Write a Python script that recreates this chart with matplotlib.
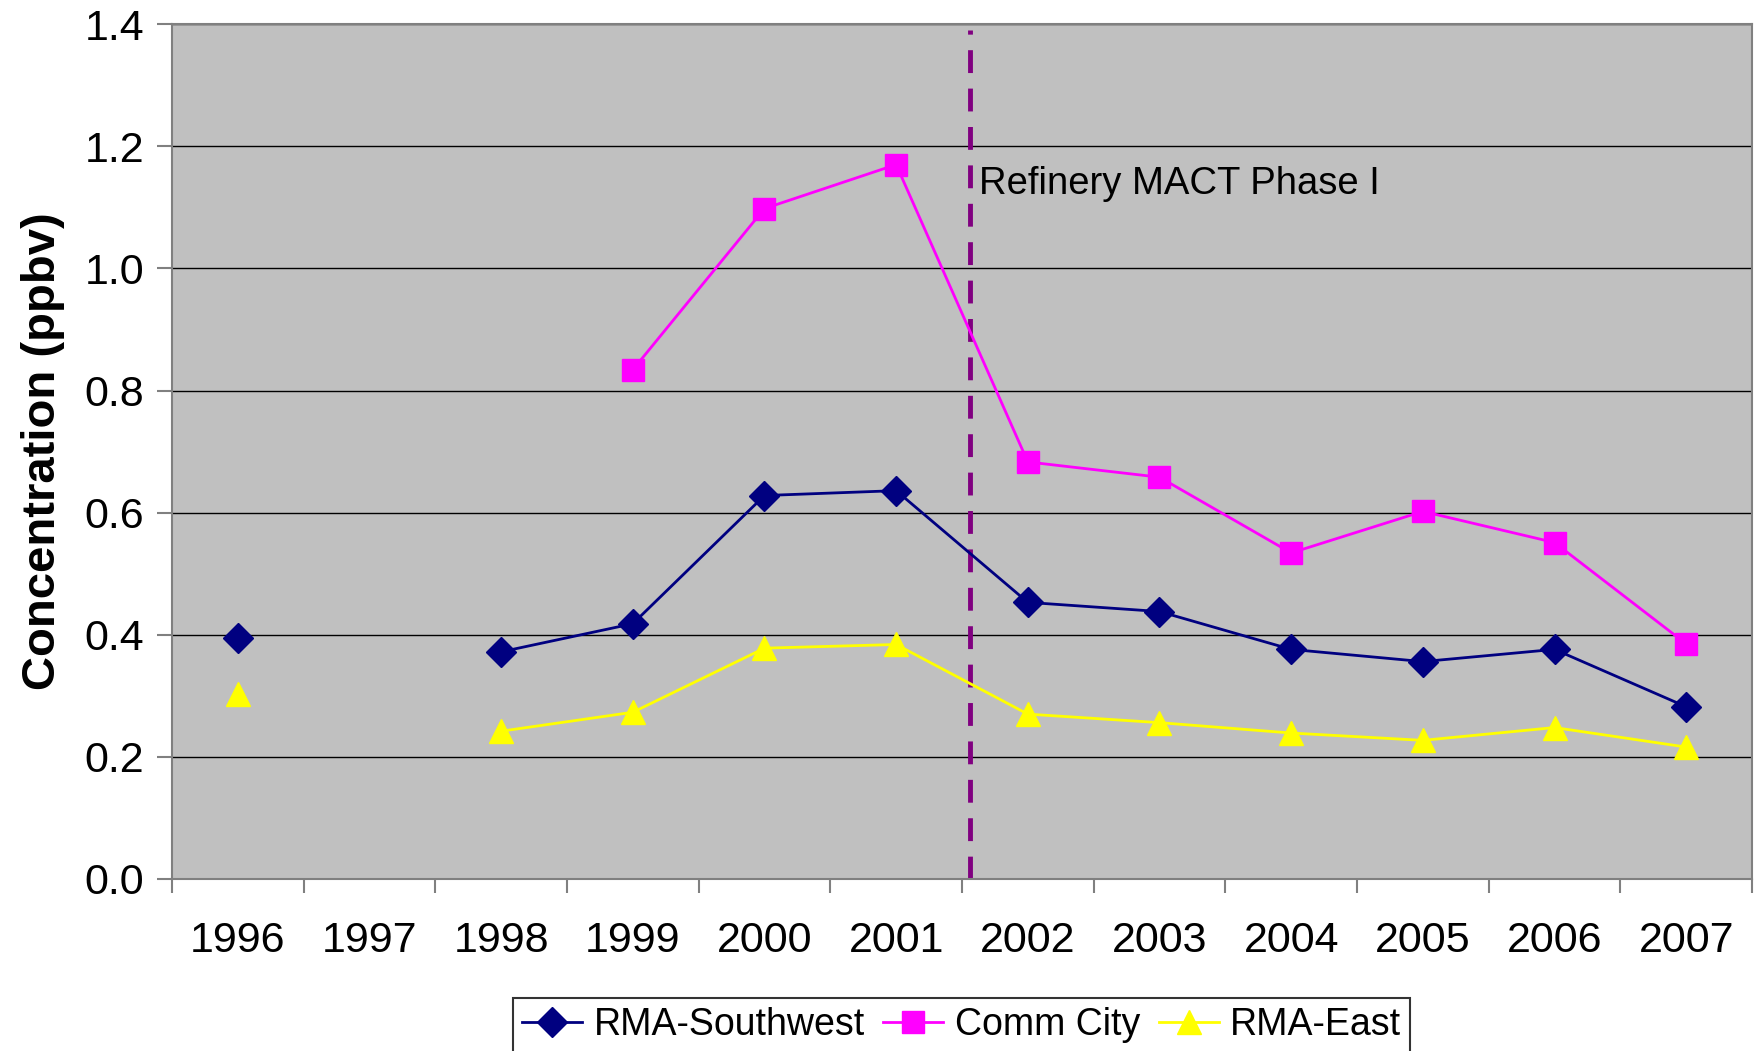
import matplotlib

matplotlib.use("Agg")
import matplotlib.pyplot as plt
import numpy as np

plt.rcParams["font.family"] = ["Liberation Sans", "DejaVu Sans"]

years = ["1996", "1997", "1998", "1999", "2000", "2001",
         "2002", "2003", "2004", "2005", "2006", "2007"]
nan = np.nan
rma_southwest = [0.394, nan, 0.372, 0.418, 0.628, 0.636,
                 0.453, 0.438, 0.376, 0.356, 0.376, 0.282]
comm_city = [nan, nan, nan, 0.834, 1.098, 1.170,
             0.683, 0.658, 0.534, 0.602, 0.551, 0.385]
rma_east = [0.303, nan, 0.242, 0.273, 0.378, 0.384,
            0.270, 0.256, 0.239, 0.227, 0.248, 0.216]
event_x = 5.56
event_label = "Refinery MACT Phase I"

fig = plt.figure(figsize=(17.58, 10.51), dpi=100)
ax = fig.add_axes([0.0978, 0.1637, 0.8988, 0.8133])
ax.set_facecolor("#C0C0C0")

x = np.arange(len(years))
ax.plot(x, rma_southwest, color="#000080", lw=2, marker="D", ms=15,
        label="RMA-Southwest")
ax.plot(x, comm_city, color="#FF00FF", lw=2, marker="s", ms=16.5,
        label="Comm City")
ax.plot(x, rma_east, color="#FFFF00", lw=2, marker="^", ms=17,
        label="RMA-East")

ax.plot([event_x, event_x], [0, 1.39], color="#800080", lw=3.5,
        dashes=(4.7, 3.2), zorder=1.5)
ax.text(event_x + 0.07, 1.139, event_label, fontsize=27.5, va="center", ha="left")

ax.set_xlim(-0.5, len(years) - 0.5)
ax.set_ylim(0, 1.4)
ax.set_yticks(np.arange(0, 1.41, 0.2))
ax.set_yticklabels([f"{v:.1f}" for v in np.arange(0, 1.41, 0.2)])
ax.yaxis.grid(True, color="black", lw=1)
ax.set_axisbelow(True)

ax.set_xticks(np.arange(-0.5, len(years), 1.0))
ax.set_xticklabels([])
ax.set_xticks(x, minor=True)
ax.set_xticklabels(years, minor=True)
ax.tick_params(axis="x", which="major", length=10, width=1.5, color="#808080")
ax.tick_params(axis="x", which="minor", length=0, pad=30, labelsize=31)
ax.tick_params(axis="y", length=11, width=1.5, color="#808080", labelsize=31, pad=9)

for s in ax.spines.values():
    s.set_color("#808080")
    s.set_linewidth(1.5)

ax.set_ylabel("Concentration (ppbv)", fontsize=34, fontweight="bold", labelpad=14)

leg = fig.legend(loc="upper center", bbox_to_anchor=(0.547, 0.0504), ncol=3,
                 fontsize=27, frameon=True, fancybox=False, edgecolor="black",
                 handlelength=1.6, handletextpad=0.3, columnspacing=0.5,
                 borderpad=0.25, borderaxespad=0)
leg.get_frame().set_linewidth(1.5)

fig.savefig("out.png", dpi=100)
